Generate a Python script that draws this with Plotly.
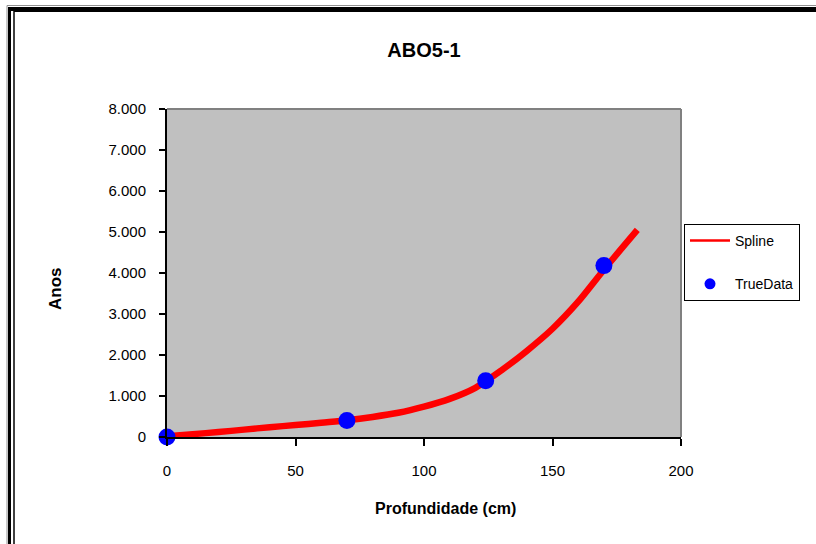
import plotly.graph_objects as go

# ---- data ----
spline_x = [0, 10, 20, 30, 40, 50, 60, 70, 80, 90, 100, 110, 120, 130, 140, 150, 160, 170, 183]
spline_y = [20, 70, 120, 180, 240, 290, 350, 410, 490, 590, 740, 930, 1200, 1620, 2100, 2640, 3300, 4080, 5050]
true_x = [0, 70, 124, 170]
true_y = [0, 400, 1370, 4180]
y_ticks = [0, 1000, 2000, 3000, 4000, 5000, 6000, 7000, 8000]
y_tick_labels = ["0", "1.000", "2.000", "3.000", "4.000", "5.000", "6.000", "7.000", "8.000"]
x_ticks = [0, 50, 100, 150, 200]
x_tick_labels = ["0", "50", "100", "150", "200"]

W, H = 816, 544
L, R, T, B = 167, 135, 109, 107
pw, ph = W - L - R, H - T - B

def px(x):
    return (x - L) / pw

def py(y):
    return (H - B - y) / ph

FONT = "Liberation Sans, Arial, sans-serif"

fig = go.Figure()
fig.add_trace(go.Scatter(x=spline_x, y=spline_y, mode="lines",
                         line=dict(color="#FF0000", width=6.5, shape="spline", smoothing=0.8),
                         showlegend=False, cliponaxis=False, hoverinfo="skip"))
fig.add_trace(go.Scatter(x=true_x, y=true_y, mode="markers",
                         marker=dict(color="#0000FF", size=17),
                         showlegend=False, cliponaxis=False))
# legend entries
fig.add_trace(go.Scatter(x=[None], y=[None], mode="lines", name="Spline",
                         line=dict(color="#FF0000", width=2.5), legendgroup="a"))
fig.add_trace(go.Scatter(x=[None], y=[None], mode="markers", name="TrueData",
                         marker=dict(color="#0000FF", size=11), legendgroup="b"))

shapes = [
    # plot area top/right gray border
    dict(type="line", xref="paper", yref="paper", x0=0, x1=1, y0=1, y1=1,
         line=dict(color="#808080", width=2)),
    dict(type="line", xref="paper", yref="paper", x0=1, x1=1, y0=0, y1=1,
         line=dict(color="#808080", width=2)),
    # outer frame
    dict(type="line", xref="paper", yref="paper", x0=px(7), x1=px(W), y0=py(5.5), y1=py(5.5),
         line=dict(color="#909090", width=1)),
    dict(type="line", xref="paper", yref="paper", x0=px(8), x1=px(W), y0=py(9), y1=py(9),
         line=dict(color="#000000", width=4)),
    dict(type="line", xref="paper", yref="paper", x0=px(7), x1=px(7), y0=py(5.5), y1=py(H),
         line=dict(color="#909090", width=1)),
    dict(type="line", xref="paper", yref="paper", x0=px(9.5), x1=px(9.5), y0=py(7), y1=py(H),
         line=dict(color="#000000", width=3)),
    dict(type="line", xref="paper", yref="paper", x0=px(14), x1=px(14), y0=py(11), y1=py(H),
         line=dict(color="#000000", width=1.5)),
    dict(type="line", xref="paper", yref="paper", x0=px(14), x1=px(W), y0=py(11.5), y1=py(11.5),
         line=dict(color="#000000", width=1)),
]

annotations = [
    dict(text="<b>Profundidade (cm)</b>", xref="paper", yref="paper",
         x=px(445), y=py(508), xanchor="center", yanchor="middle", showarrow=False,
         font=dict(size=16, family=FONT)),
    dict(text="<b>Anos</b>", xref="paper", yref="paper", textangle=-90,
         x=px(55), y=py(289), xanchor="center", yanchor="middle", showarrow=False,
         font=dict(size=17, family=FONT)),
]

fig.update_layout(
    width=W, height=H,
    margin=dict(l=L, r=R, t=T, b=B),
    paper_bgcolor="white", plot_bgcolor="#C0C0C0",
    font=dict(family=FONT, size=15, color="black"),
    title=dict(text="<b>ABO5-1</b>", x=0.5, xref="paper", xanchor="center",
               y=1 - 50 / H, yanchor="middle", font=dict(size=20, family=FONT)),
    xaxis=dict(range=[0, 200], tickvals=x_ticks, ticktext=x_tick_labels,
               showgrid=False, zeroline=False, showline=True, linecolor="black", linewidth=2,
               ticks="outside", ticklen=7, tickwidth=1.5, tickcolor="black",
               ticklabelstandoff=12, tickfont=dict(size=15)),
    yaxis=dict(range=[0, 8000], tickvals=y_ticks, ticktext=y_tick_labels,
               showgrid=False, zeroline=False, showline=True, linecolor="black", linewidth=2,
               ticks="outside", ticklen=6, tickwidth=1.5, tickcolor="black",
               ticklabelstandoff=10, tickfont=dict(size=15)),
    legend=dict(x=px(684), y=py(224), xanchor="left", yanchor="top",
                bgcolor="white", bordercolor="black", borderwidth=1,
                font=dict(size=14), tracegroupgap=22, itemwidth=40),
    annotations=annotations,
    shapes=shapes,
)

fig.write_html("out.html")
